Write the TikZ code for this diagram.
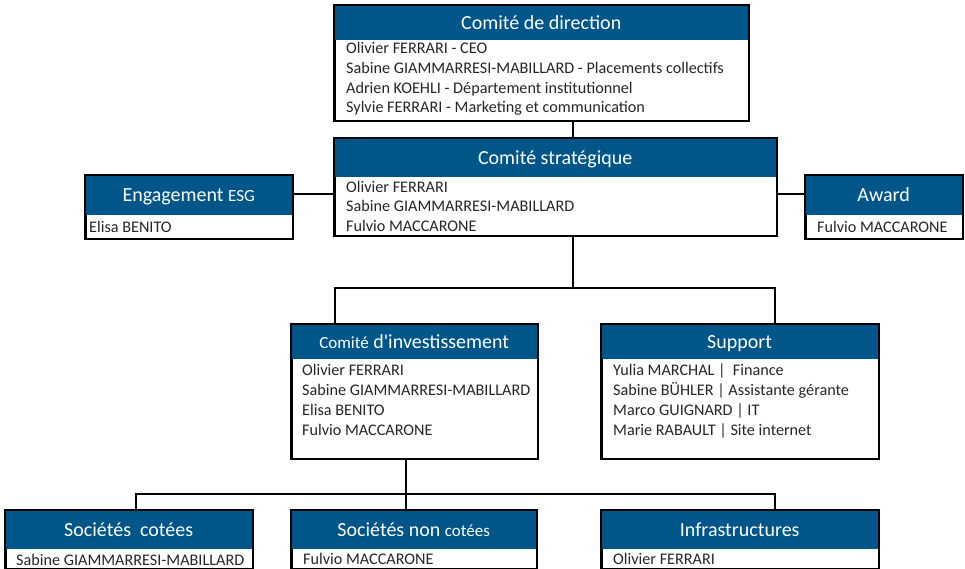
\documentclass[tikz,border=0pt]{standalone}
\usepackage{fontspec}
\setmainfont{Carlito}
\usetikzlibrary{calc}
\definecolor{hdrblue}{RGB}{0,86,136}
\tikzset{
  box/.style={draw=black, line width=1.6pt, fill=white, rectangle, inner sep=0pt, anchor=north west},
  hdr/.style={fill=hdrblue, rectangle, inner sep=0pt, anchor=north west, text=white, text height=13pt, text depth=0pt, font=\fontsize{20}{22}\selectfont},
  body/.style={anchor=base west, inner sep=0pt, align=left, text=black!85, font=\fontsize{16.2}{19.7}\selectfont},
  conn/.style={draw=black, line width=1.2pt}
}
\newcommand{\sm}[1]{{\fontsize{17}{18}\selectfont #1}}
\newcommand{\orgbox}[7]{% name, x, y, w, h, headerh, title
  \node[box, minimum width=#4pt, minimum height=#5pt] (#1) at (#2,#3) {};
  \node[hdr, minimum width=#4pt, minimum height=#6pt] (#1h) at (#1.north west) {#7};
  \draw[line width=1.6pt] (#1.north west) rectangle (#1.south east);
}
\begin{document}
\begin{tikzpicture}[x=1pt,y=-1pt]
\useasboundingbox (0,0) rectangle (965,569);
% boxes
\orgbox{dir}{334}{5}{414}{115}{35}{Comité de direction}
\orgbox{strat}{334}{138}{442}{97}{39}{Comité stratégique}
\orgbox{esg}{85}{175}{207}{63}{40}{Engagement \sm{ESG}}
\orgbox{award}{805}{175}{157}{63}{40}{Award}
\orgbox{inv}{291}{324}{246}{134}{35}{\sm{Comité} d\textquotesingle investissement}
\orgbox{sup}{601}{324}{277}{134}{35}{Support}
\orgbox{cot}{5}{510}{247}{58}{39}{Sociétés\ \ cotées}
\orgbox{ncot}{291}{510}{245}{58}{39}{Sociétés\ non \sm{cotées}}
\orgbox{inf}{601}{510}{277}{58}{39}{Infrastructures}
% body texts (base anchor = baseline of last line)
\node[body] (dirt) at (346,113) {Olivier FERRARI - CEO\\Sabine GIAMMARRESI-MABILLARD - Placements collectifs\\Adrien KOEHLI - Département institutionnel\\Sylvie FERRARI - Marketing et communication};
\node[body] (stratt) at (346,231.5) {Olivier FERRARI\\Sabine GIAMMARRESI-MABILLARD\\Fulvio MACCARONE};
\node[body] (esgt) at (89,233) {Elisa BENITO};
\node[body] (awardt) at (817,233) {Fulvio MACCARONE};
\node[body] (invt) at (302,435) {Olivier FERRARI\\Sabine GIAMMARRESI-MABILLARD\\Elisa BENITO\\Fulvio MACCARONE};
\node[body] (supt) at (613,435) {Yulia MARCHAL |\ \ Finance\\Sabine BÜHLER | Assistante gérante\\Marco GUIGNARD | IT\\Marie RABAULT | Site internet};
\node[body] (cott) at (16,565) {Sabine GIAMMARRESI-MABILLARD};
\node[body] (ncott) at (303,564) {Fulvio MACCARONE};
\node[body] (inft) at (613,564) {Olivier FERRARI};
% connectors
\coordinate (s1) at (573,288);
\coordinate (s2) at (406,494);
\draw[conn] (dir.south -| s1) -- (strat.north -| s1);
\draw[conn] (esg.east |- 0,194) -- (strat.west |- 0,194);
\draw[conn] (strat.east |- 0,194) -- (award.west |- 0,194);
\draw[conn] (strat.south -| s1) -- (s1);
\draw[conn] (inv.north -| 335,0) -- (335,0 |- s1) -- (775,0 |- s1) -- (sup.north -| 775,0);
\draw[conn] (inv.south -| s2) -- (s2);
\draw[conn] (cot.north -| 136,0) -- (136,0 |- s2) -- (775,0 |- s2) -- (inf.north -| 775,0);
\draw[conn] (s2) -- (ncot.north -| s2);
\end{tikzpicture}
\end{document}
